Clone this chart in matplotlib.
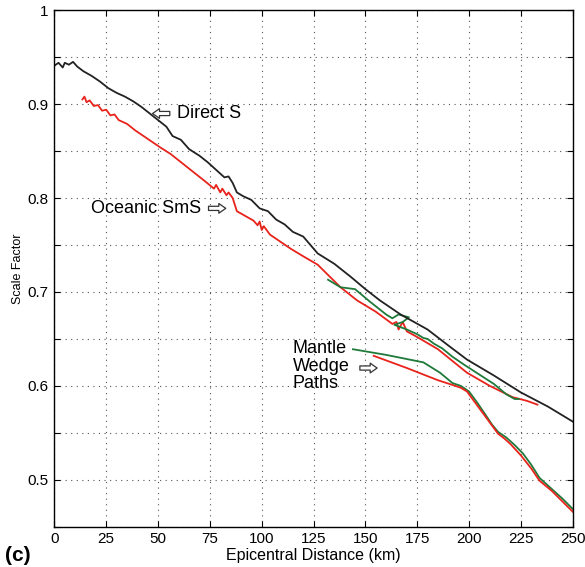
import numpy as np
import matplotlib
matplotlib.use('Agg')
import matplotlib.pyplot as plt
from matplotlib.ticker import MultipleLocator, FuncFormatter

plt.rcParams['font.family'] = ['Liberation Sans', 'DejaVu Sans']

# Direct S (negro)
direct_x = [0, 2, 4, 5, 7, 9, 11, 14, 18, 22, 26, 30, 34, 38, 42, 46, 50, 54, 57, 61, 65, 70, 74, 78, 82, 84, 86, 88,
            91, 95, 99, 103, 107, 111, 115, 120, 127, 135, 143, 150, 157, 167, 180, 190, 199, 212, 225, 238, 250]
direct_y = [0.941, 0.944, 0.939, 0.944, 0.942, 0.945, 0.940, 0.935, 0.930, 0.924, 0.917, 0.912, 0.908, 0.903, 0.897,
            0.890, 0.883, 0.876, 0.866, 0.862, 0.852, 0.845, 0.838, 0.830, 0.822, 0.823, 0.816, 0.806, 0.802, 0.798,
            0.789, 0.786, 0.777, 0.772, 0.764, 0.759, 0.741, 0.730, 0.716, 0.703, 0.691, 0.676, 0.660, 0.643, 0.628,
            0.611, 0.593, 0.578, 0.562]

# Oceanic SmS (rojo)
sms_x = [13.5, 14.5, 15.5, 17, 19, 21, 23, 25, 27, 29, 31, 33, 35, 39, 43, 47, 51, 56, 60, 64, 68, 72, 77, 78,
         80, 81, 83, 84, 86, 88, 92, 96, 98, 99, 100, 101, 104, 110, 114, 120, 127, 138, 146, 155, 163,
         165, 166, 168, 170, 175, 185, 199, 210, 221, 228, 233]
sms_y = [0.905, 0.908, 0.902, 0.904, 0.898, 0.899, 0.893, 0.894, 0.888, 0.889, 0.883, 0.881, 0.879, 0.872, 0.866,
         0.860, 0.854, 0.847, 0.840, 0.833, 0.826, 0.819, 0.810, 0.814, 0.806, 0.810, 0.803, 0.806, 0.800, 0.786,
         0.781, 0.776, 0.771, 0.775, 0.766, 0.770, 0.761, 0.752, 0.746, 0.738, 0.729, 0.705, 0.691, 0.679, 0.666,
         0.668, 0.660, 0.668, 0.658, 0.652, 0.639, 0.614, 0.600, 0.588, 0.584, 0.580]

# Oceanic SmS, camino del manto (verde)
green1_x = [132, 138, 145, 152, 160, 163, 166, 171, 168, 164, 170, 175, 178, 180, 183, 187, 192, 198, 205, 212,
            218, 222, 224]
green1_y = [0.713, 0.705, 0.703, 0.690, 0.676, 0.672, 0.676, 0.673, 0.668, 0.665, 0.660, 0.655, 0.651, 0.650,
            0.645, 0.640, 0.631, 0.622, 0.612, 0.602, 0.591, 0.586, 0.586]

# Mantle wedge paths
wedge_red_x = [154, 170, 185, 192, 196, 199, 203, 207, 211, 214, 217, 220, 225, 230, 234, 240, 245, 250]
wedge_red_y = [0.632, 0.619, 0.606, 0.601, 0.598, 0.594, 0.582, 0.570, 0.558, 0.549, 0.544, 0.538, 0.526,
               0.512, 0.499, 0.488, 0.477, 0.466]
wedge_green_x = [144, 160, 178, 186, 192, 196, 200, 204, 208, 211, 214, 218, 222, 226, 230, 234, 240, 245, 250]
wedge_green_y = [0.639, 0.633, 0.625, 0.614, 0.603, 0.600, 0.594, 0.582, 0.569, 0.559, 0.551, 0.545, 0.537,
                 0.528, 0.516, 0.502, 0.490, 0.480, 0.469]

rojo = '#e8231b'
verde = '#1f7a3a'
negro = '#222222'

fig = plt.figure(figsize=(5.85, 5.67), dpi=100)
ax = fig.add_axes([0.093, 0.071, 0.886, 0.911])

ax.plot(wedge_green_x, wedge_green_y, color=verde, lw=1.3)
ax.plot(wedge_red_x, wedge_red_y, color=rojo, lw=1.3)
ax.plot(sms_x, sms_y, color=rojo, lw=1.3)
ax.plot(green1_x, green1_y, color=verde, lw=1.3)
ax.plot(direct_x, direct_y, color=negro, lw=1.3)

ax.set_xlim(0, 250)
ax.set_ylim(0.45, 1.0)
ax.xaxis.set_major_locator(MultipleLocator(25))
ax.yaxis.set_major_locator(MultipleLocator(0.05))

def fmt_y(v, pos):
    if abs(round(v * 10) - v * 10) < 1e-6:
        return '1' if abs(v - 1) < 1e-6 else '%.1f' % v
    return ''

ax.yaxis.set_major_formatter(FuncFormatter(fmt_y))
ax.tick_params(direction='in', top=True, right=True, length=4, labelsize=11, pad=4)
ax.grid(True, linestyle=(0, (1, 4)), color='#555555', lw=0.8)
for s in ax.spines.values():
    s.set_linewidth(1.0)

ax.set_xlabel('Epicentral Distance (km)', fontsize=11.5, labelpad=1)
ax.set_ylabel('Scale Factor', fontsize=9, labelpad=3)

# Flechas huecas y etiquetas
flecha = dict(arrowstyle='simple,head_length=0.5,head_width=0.7,tail_width=0.3',
              fc='white', ec='#333333', lw=0.9)
ax.annotate('', xy=(46, 0.890), xytext=(57, 0.890), arrowprops=flecha)
ax.text(59, 0.890, 'Direct S', fontsize=13, va='center')
ax.annotate('', xy=(84, 0.789), xytext=(73, 0.789), arrowprops=flecha)
ax.text(71, 0.789, 'Oceanic SmS', fontsize=13, va='center', ha='right')
ax.annotate('', xy=(157, 0.619), xytext=(146, 0.619), arrowprops=flecha)
ax.text(115, 0.621, 'Mantle\nWedge\nPaths', fontsize=13, va='center', ha='left', linespacing=1.05)

fig.text(0.008, 0.01, '(c)', fontsize=15, fontweight='bold')

plt.savefig('out.png', dpi=100)
